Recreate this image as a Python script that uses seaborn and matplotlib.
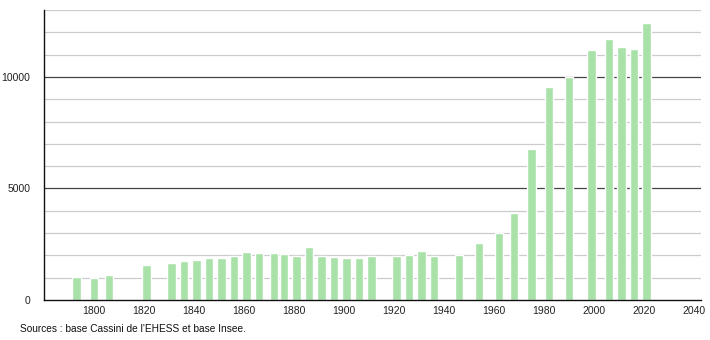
import matplotlib
matplotlib.use("Agg")
import matplotlib.pyplot as plt
import seaborn as sns
import pandas as pd
import numpy as np

years = [1793, 1800, 1806, 1821, 1831, 1836, 1841, 1846, 1851, 1856, 1861, 1866,
         1872, 1876, 1881, 1886, 1891, 1896, 1901, 1906, 1911, 1921, 1926, 1931,
         1936, 1946, 1954, 1962, 1968, 1975, 1982, 1990, 1999, 2006, 2011, 2016, 2021]
population = [1020, 975, 1120, 1570, 1660, 1750, 1790, 1870, 1870, 1970, 2160, 2100,
              2110, 2050, 1960, 2380, 1970, 1940, 1880, 1880, 1970, 1960, 2020, 2200,
              1970, 2020, 2560, 3010, 3920, 6780, 9565, 10010, 11225, 11690, 11360, 11270, 12420]
x_labels = [1800, 1820, 1840, 1860, 1880, 1900, 1920, 1940, 1960, 1980, 2000, 2020, 2040]
y_labels = [0, 5000, 10000]
source_text = "Sources : base Cassini de l'EHESS et base Insee."

sns.set_style("white")
plt.rcParams['font.family'] = ['Liberation Sans', 'DejaVu Sans']

fig = plt.figure(figsize=(7.1, 3.4), dpi=100)
ax = fig.add_axes([44/710, 40/340, 657/710, 290/340])

df = pd.DataFrame({"year": years, "population": population})

# grid lines
for v in range(1000, 14000, 1000):
    if v % 5000 == 0:
        ax.axhline(v, color="#444444", lw=0.9, zorder=0)
    else:
        ax.axhline(v, color="#cccccc", lw=0.9, zorder=0)

sns.barplot(data=df, x="year", y="population", native_scale=True, width=0.8,
            color="#a8e2a8", saturation=1, ax=ax, zorder=2)

# set bar widths to ~3.3 years centred on each census year
for patch in ax.patches:
    cx = patch.get_x() + patch.get_width() / 2
    patch.set_width(3.3)
    patch.set_x(cx - 3.3 / 2)

ax.set_xlim(1780, 2042.8)
ax.set_ylim(0, 13000)
ax.set_xticks(x_labels)
ax.set_xticklabels([str(v) for v in x_labels])
ax.set_yticks(y_labels)
ax.set_yticklabels([str(v) for v in y_labels])
ax.set_yticks(list(range(0, 14000, 1000)), minor=True)
ax.tick_params(axis="x", length=0, labelsize=7.5, pad=4, colors="#222222")
ax.tick_params(axis="y", which="major", length=7, width=0.9, labelsize=7.5, pad=3, colors="#222222")
ax.tick_params(axis="y", which="minor", length=3, width=0.9, color="#222222")
ax.set_xlabel("")
ax.set_ylabel("")

for s in ["top", "right"]:
    ax.spines[s].set_visible(False)
for s in ["left", "bottom"]:
    ax.spines[s].set_color("#111111")
    ax.spines[s].set_linewidth(1.0)

fig.text(20/710, 1 - 329/340, source_text, fontsize=7.3, va="center", ha="left", color="#111111")

fig.savefig("out.png", dpi=100)
